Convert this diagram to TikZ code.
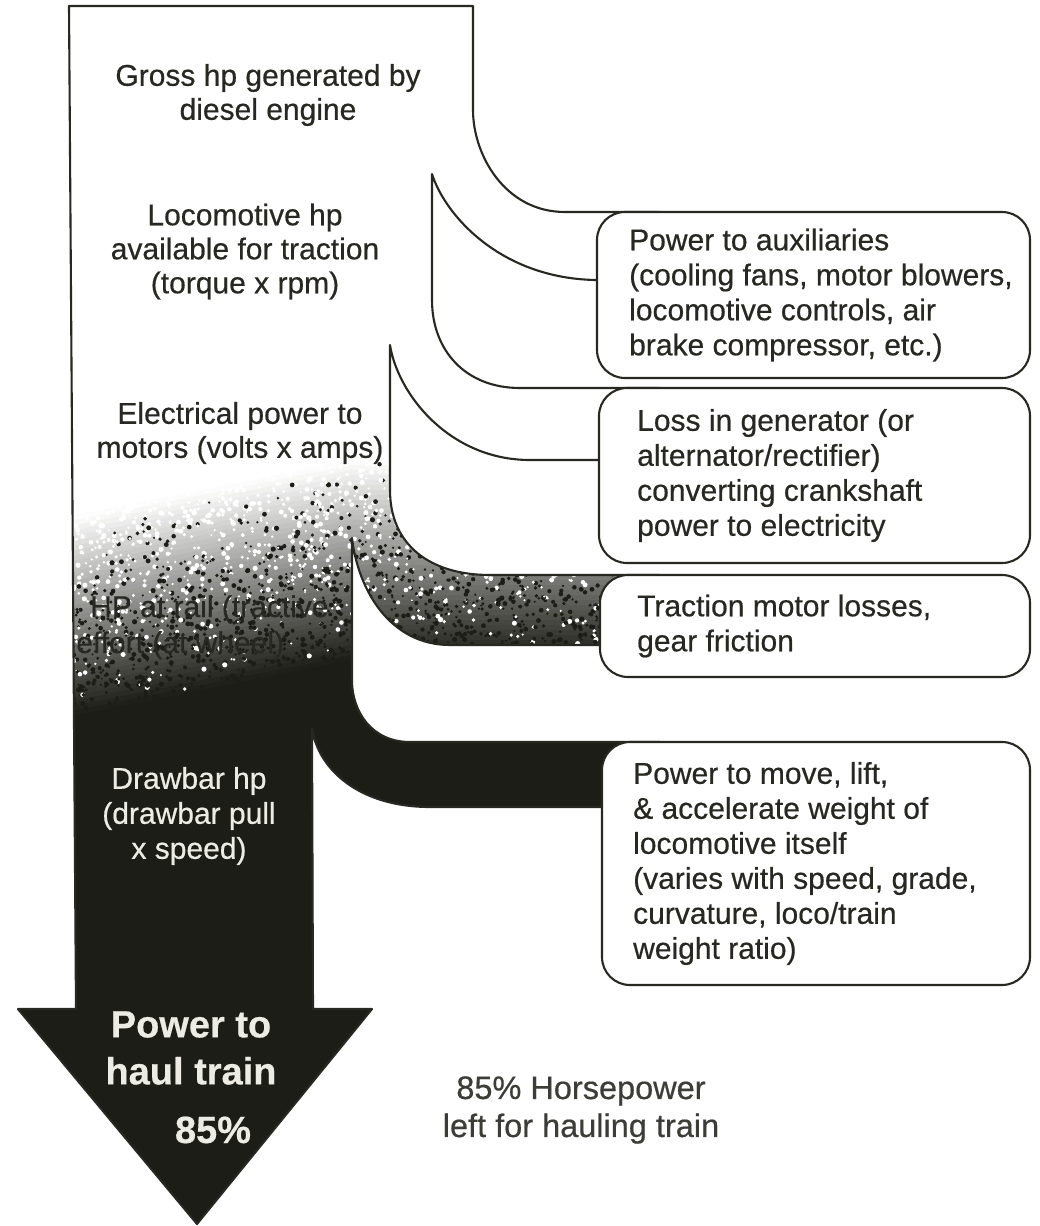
\documentclass[tikz,border=0pt]{standalone}
\usepackage{fontspec}
\setmainfont{Liberation Sans}[FakeBold=0.5]
\definecolor{ink}{RGB}{40,40,34}
\definecolor{dark}{RGB}{28,29,22}
\definecolor{lite}{RGB}{236,236,228}
\newcommand\flowoutline{(69,6) -- (473,6) -- (473,110)
 .. controls (473,155) and (505,212) .. (565,212) -- (660,212) -- (660,280) -- (595,280)
 .. controls (500,278) and (445,215) .. (432,174)
 -- (432,300) .. controls (432,350) and (465,388) .. (520,388) -- (660,388) -- (660,460) -- (530,460)
 .. controls (450,460) and (398,395) .. (390,345)
 -- (390,490) .. controls (390,545) and (430,575) .. (490,575) -- (660,575) -- (660,645) -- (450,645)
 .. controls (390,645) and (358,590) .. (352,538)
 -- (352,680) .. controls (352,712) and (372,742) .. (410,742) -- (660,742) -- (660,807) -- (430,807)
 .. controls (360,807) and (318,770) .. (312,728)
 -- (313,1009) -- (372,1009) -- (197,1224) -- (18,1009) -- (76,1009) -- cycle}
\tikzset{
  flowline/.style={draw=ink, line width=2.1, line join=round},
  lossbox/.style={draw=ink, line width=2.1, fill=white, rounded corners=28, inner sep=0},
  boxtext/.style={font=\fontsize{30}{35}\selectfont, text=ink, align=left, inner sep=0, anchor=west},
  flowtext/.style={font=\fontsize{30}{34}\selectfont, text=ink, align=center, inner sep=0},
  whitetext/.style={font=\fontsize{30}{35}\selectfont, text=lite, align=center, inner sep=0},
  bigtext/.style={font=\bfseries\fontsize{38}{47}\selectfont, text=lite, align=center, inner sep=0}
}
\begin{document}
\begin{tikzpicture}[x=1pt,y=-1pt]
\useasboundingbox[fill=white] (0,0) rectangle (1040,1226);
% flow body with airbrushed darkening
\begin{scope}
  \clip \flowoutline;
  \fill[white] (0,0) rectangle (1040,1226);
  \begin{scope}
    \clip (0,0) rectangle (352,1226);
    \foreach \k in {0,...,39}{
      \pgfmathsetmacro\sa{460+5*\k}
      \pgfmathsetmacro\sb{\sa+6}
      \pgfmathsetmacro\dk{2.5*\k+1.25}
      \fill[dark!\dk] (0,\sa+70.4) -- (352,\sa) -- (352,\sb) -- (0,\sb+70.4) -- cycle;
    }
    \fill[dark] (0,730.4) -- (352,660) -- (352,1226) -- (0,1226) -- cycle;
  \end{scope}
  \begin{scope}
    \clip (352,0) rectangle (1040,1226);
    \foreach \k in {0,...,39}{
      \pgfmathsetmacro\sa{460+5*\k}
      \pgfmathsetmacro\sb{\sa+6}
      \pgfmathsetmacro\dk{2.5*\k+1.25}
      \fill[dark!\dk] (352,\sa) rectangle (1040,\sb);
    }
    \fill[dark] (352,660) rectangle (1040,1226);
  \end{scope}
  \pgfmathsetseed{4242}
  \foreach \i in {1,...,3800}{
    \pgfmathsetmacro\px{70+580*rnd}
    \pgfmathsetmacro\py{440+270*rnd}
    \pgfmathsetmacro\dd{max(0,min(1,(\py+0.2*(min(\px,352)-352)-460)/200))}
    \pgfmathsetmacro\rr{rnd}
    \pgfmathsetmacro\rad{1.1+1.5*rnd}
    \ifdim\rr pt<\dd pt
      \fill[dark] (\px,\py) circle[radius=\rad];
    \else
      \fill[white] (\px,\py) circle[radius=\rad];
    \fi
  }
\end{scope}
\draw[flowline] \flowoutline;
% loss boxes
\node[lossbox, minimum width=433, minimum height=166] (aux) at (813.5,295) {};
\node[lossbox, minimum width=431, minimum height=175] (gen) at (814.5,475.5) {};
\node[lossbox, minimum width=430, minimum height=102] (tmot) at (815,626) {};
\node[lossbox, minimum width=428, minimum height=243] (self) at (816,863.5) {};
\node[boxtext] (auxT) at (629,295) {Power to auxiliaries\\(cooling fans, motor blowers,\\locomotive controls, air\\brake compressor, etc.)};
\node[boxtext] (genT) at (637,475.5) {Loss in generator (or\\alternator/rectifier)\\converting crankshaft\\power to electricity};
\node[boxtext] (tmotT) at (637,626) {Traction motor losses,\\gear friction};
\node[boxtext] (selfT) at (633,863.5) {Power to move, lift,\\\& accelerate weight of\\locomotive itself\\(varies with speed, grade,\\curvature, loco/train\\weight ratio)};
% labels in the flow
\node[flowtext] (gross) at (268,95) {Gross hp generated by\\diesel engine};
\node[flowtext] (locohp) at (245,251.5) {Locomotive hp\\available for traction\\(torque x rpm)};
\node[flowtext] (elec) at (240,433) {Electrical power to\\motors (volts x amps)};
\node[font=\fontsize{30}{34}\selectfont, text=ink, inner sep=0, anchor=base west] (rail1) at (90,617) {HP at rail (tractive};
\node[font=\fontsize{30}{34}\selectfont, text=ink, inner sep=0, anchor=base west] (rail2) at (76,653) {effort (at wheel)};
\node[whitetext] (drawbar) at (189,816) {Drawbar hp\\(drawbar pull\\x speed)};
\node[bigtext] (haul) at (191,1048) {Power to\\haul train};
\node[bigtext, anchor=base] (pct) at (213,1143) {85\%};
\node[font=\fontsize{32.5}{38}\selectfont, text=ink!90, align=center, inner sep=0] (left) at (581,1110) {85\% Horsepower\\left for hauling train};
\end{tikzpicture}
\end{document}
